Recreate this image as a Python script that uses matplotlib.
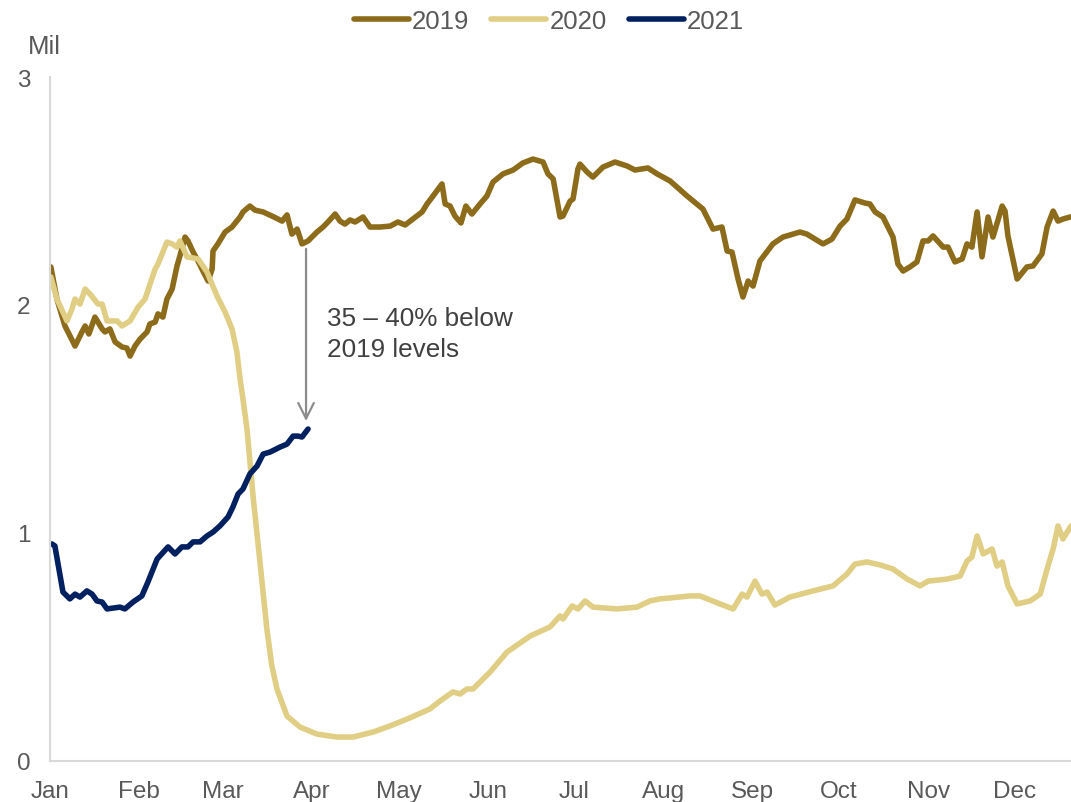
import matplotlib
matplotlib.use("Agg")
from matplotlib import pyplot as plt

plt.rcParams['font.family'] = ['Liberation Sans', 'DejaVu Sans']

# day of year (0 = Jan 1) and daily travellers in millions
days_2019 = [0.3, 2.4, 5.2, 8.7, 11.1, 12.2, 13.5, 15.6, 18.1, 19.1, 20.8, 22.6, 25.0, 26.7, 27.8,
             29.5, 31.3, 33.7, 34.7, 36.5, 37.5, 39.2, 40.6, 42.4, 44.1, 45.1, 46.9, 47.9, 49.7,
             51.4, 53.1, 54.9, 56.3, 56.6, 58.3, 60.8, 63.2, 66.0, 67.0, 69.4, 71.2, 74.0, 77.1,
             80.6, 82.3, 84.0, 85.8, 87.5, 89.6, 92.7, 94.8, 96.5, 99.0, 100.7, 102.4, 104.2,
             105.9, 108.7, 111.1, 114.6, 118.1, 120.8, 123.3, 126.0, 129.2, 130.9, 133.0, 136.1,
             137.2, 138.9, 140.6, 142.7, 144.4, 146.5, 149.3, 151.7, 153.8, 157.3, 160.8, 164.2,
             167.7, 171.2, 172.9, 174.7, 177.1, 178.1, 180.6, 181.6, 183.3, 184.0, 186.5, 188.5,
             192.0, 196.2, 200.3, 203.1, 207.6, 210.8, 215.3, 221.2, 226.7, 230.2, 233.3, 235.1,
             236.8, 238.9, 240.6, 242.4, 244.1, 246.5, 251.0, 254.5, 260.4, 262.8, 268.4, 271.5,
             274.3, 276.7, 279.5, 283.0, 284.7, 286.5, 289.2, 292.7, 294.4, 296.2, 298.6, 301.0,
             303.1, 304.9, 306.6, 310.1, 311.8, 314.2, 316.7, 318.4, 320.1, 321.9, 323.6, 325.7,
             327.4, 330.6, 331.6, 332.6, 335.8, 339.2, 341.3, 344.4, 346.2, 348.3, 350.0, 351.7,
             354.2]
vals_2019 = [2.167, 2.026, 1.908, 1.820, 1.882, 1.908, 1.873, 1.947, 1.895, 1.882, 1.895, 1.838,
             1.816, 1.811, 1.776, 1.820, 1.851, 1.882, 1.917, 1.925, 1.961, 1.947, 2.026, 2.070,
             2.171, 2.215, 2.298, 2.281, 2.232, 2.193, 2.149, 2.105, 2.158, 2.237, 2.268, 2.320,
             2.342, 2.386, 2.408, 2.434, 2.416, 2.408, 2.390, 2.368, 2.395, 2.311, 2.333, 2.268,
             2.281, 2.320, 2.342, 2.364, 2.399, 2.368, 2.355, 2.373, 2.364, 2.386, 2.342, 2.342,
             2.346, 2.364, 2.351, 2.377, 2.408, 2.443, 2.478, 2.531, 2.443, 2.434, 2.390, 2.360,
             2.434, 2.399, 2.443, 2.478, 2.539, 2.575, 2.592, 2.623, 2.640, 2.627, 2.575, 2.553,
             2.386, 2.390, 2.456, 2.465, 2.596, 2.618, 2.583, 2.561, 2.605, 2.627, 2.610, 2.592,
             2.601, 2.575, 2.544, 2.478, 2.421, 2.333, 2.342, 2.237, 2.232, 2.114, 2.035, 2.105,
             2.083, 2.193, 2.268, 2.298, 2.320, 2.311, 2.268, 2.289, 2.346, 2.377, 2.461, 2.447,
             2.443, 2.408, 2.386, 2.298, 2.180, 2.149, 2.167, 2.189, 2.281, 2.281, 2.303, 2.254,
             2.254, 2.189, 2.202, 2.268, 2.254, 2.408, 2.211, 2.386, 2.298, 2.434, 2.412, 2.303,
             2.114, 2.167, 2.171, 2.224, 2.342, 2.412, 2.368, 2.377, 2.386]

days_2020 = [0.3, 2.4, 5.9, 7.6, 8.7, 10.4, 12.2, 13.9, 16.7, 18.1, 19.8, 23.3, 25.0, 27.8, 30.6,
             33.0, 36.5, 37.5, 40.6, 42.4, 44.1, 45.1, 47.6, 51.4, 54.5, 58.0, 60.8, 63.2, 64.9,
             66.0, 67.0, 68.4, 70.5, 72.9, 75.3, 77.0, 78.8, 82.3, 86.8, 92.7, 99.7, 105.2, 112.2,
             118.1, 124.0, 131.9, 135.4, 139.9, 142.4, 144.8, 146.9, 152.8, 158.7, 166.7, 173.6,
             177.1, 178.1, 181.3, 183.3, 185.8, 188.5, 196.9, 203.8, 208.3, 211.8, 215.3, 222.2,
             225.7, 232.6, 237.2, 240.3, 242.0, 244.8, 247.2, 249.0, 251.7, 256.9, 264.9, 271.9,
             276.7, 279.5, 283.7, 288.2, 292.7, 297.6, 302.1, 304.9, 311.5, 316.0, 318.4, 320.1,
             321.9, 324.0, 327.1, 328.8, 330.6, 332.6, 335.8, 340.3, 343.8, 346.5, 348.3, 350.0,
             351.7, 354.5]
vals_2020 = [2.123, 2.026, 1.930, 1.982, 2.026, 2.004, 2.070, 2.048, 2.004, 2.004, 1.930, 1.930,
             1.908, 1.930, 1.991, 2.026, 2.158, 2.180, 2.276, 2.268, 2.254, 2.281, 2.211, 2.202,
             2.145, 2.039, 1.969, 1.895, 1.794, 1.675, 1.588, 1.456, 1.162, 0.873, 0.579, 0.420,
             0.316, 0.197, 0.149, 0.118, 0.105, 0.105, 0.127, 0.154, 0.184, 0.228, 0.263, 0.303,
             0.294, 0.316, 0.316, 0.390, 0.478, 0.548, 0.588, 0.636, 0.623, 0.680, 0.667, 0.702,
             0.675, 0.667, 0.675, 0.702, 0.711, 0.715, 0.724, 0.724, 0.689, 0.667, 0.732, 0.719,
             0.789, 0.732, 0.741, 0.684, 0.719, 0.746, 0.768, 0.820, 0.864, 0.873, 0.860, 0.842,
             0.798, 0.768, 0.789, 0.798, 0.811, 0.877, 0.895, 0.987, 0.908, 0.930, 0.855, 0.873,
             0.768, 0.689, 0.702, 0.732, 0.855, 0.930, 1.031, 0.974, 1.031]

days_2021 = [0.7, 1.7, 4.5, 6.9, 8.7, 10.4, 12.8, 14.6, 16.3, 18.1, 19.8, 24.3, 26.0, 28.8, 31.9,
             34.0, 37.2, 41.0, 43.4, 45.8, 47.9, 49.7, 52.1, 54.5, 56.6, 59.0, 61.8, 63.5, 65.3,
             67.0, 69.4, 71.9, 74.0, 76.4, 79.9, 82.3, 84.4, 86.1, 87.5, 89.6]
vals_2021 = [0.952, 0.943, 0.741, 0.711, 0.732, 0.719, 0.746, 0.732, 0.702, 0.697, 0.667, 0.675,
             0.667, 0.697, 0.724, 0.785, 0.886, 0.939, 0.908, 0.939, 0.939, 0.961, 0.961, 0.987,
             1.004, 1.031, 1.070, 1.114, 1.171, 1.193, 1.259, 1.294, 1.346, 1.355, 1.377, 1.390,
             1.425, 1.425, 1.421, 1.456]

month_starts = [0, 31, 60, 91, 121, 152, 182, 213, 244, 274, 305, 335]
month_labels = ['Jan', 'Feb', 'Mar', 'Apr', 'May', 'Jun', 'Jul', 'Aug', 'Sep', 'Oct', 'Nov', 'Dec']

arrow_day = 88.9
arrow_from, arrow_to = 2.246, 1.491

text_grey = '#595959'

fig = plt.figure(figsize=(10.71, 8.03), dpi=100)
ax = fig.add_axes([50 / 1071, 41 / 803, 1 - 50 / 1071, (762 - 78) / 803])

line_kw = dict(lw=4, solid_joinstyle='round', solid_capstyle='round')
ax.plot(days_2019, vals_2019, color='#8C6B1A', label='2019', **line_kw)
ax.plot(days_2020, vals_2020, color='#E0CE84', label='2020', **line_kw)
ax.plot(days_2021, vals_2021, color='#002060', label='2021', **line_kw)

ax.annotate('', xy=(arrow_day, arrow_to), xytext=(arrow_day, arrow_from),
            arrowprops=dict(arrowstyle='->', color='#8c8c8c', lw=1.6,
                            mutation_scale=28, shrinkA=0, shrinkB=0))
ax.text(96.2, 1.995, '35 \u2013 40% below\n2019 levels', fontsize=18.8, color='#404040',
        va='top', ha='left', linespacing=1.38)

ax.set_xlim(0, 354.5)
ax.set_ylim(0, 3)
ax.set_yticks([0, 1, 2, 3])
ax.set_xticks(month_starts)
ax.set_xticklabels(month_labels)
ax.tick_params(axis='both', length=0, labelsize=17.5, colors=text_grey)
ax.tick_params(axis='y', pad=14)
ax.tick_params(axis='x', pad=14)

for side in ['top', 'right']:
    ax.spines[side].set_visible(False)
for side in ['left', 'bottom']:
    ax.spines[side].set_color('#d9d9d9')
    ax.spines[side].set_linewidth(1.5)

fig.text(28 / 1071, 1 - 47 / 803, 'Mil', fontsize=18.5, color=text_grey, va='center', ha='left')

fig.legend(loc='center', bbox_to_anchor=(0.5126, 1 - 22 / 803), ncol=3, frameon=False,
           fontsize=18.5, handlelength=2.14, handletextpad=0.12, columnspacing=0.85,
           labelcolor=text_grey)

fig.savefig('out.png', dpi=100)
